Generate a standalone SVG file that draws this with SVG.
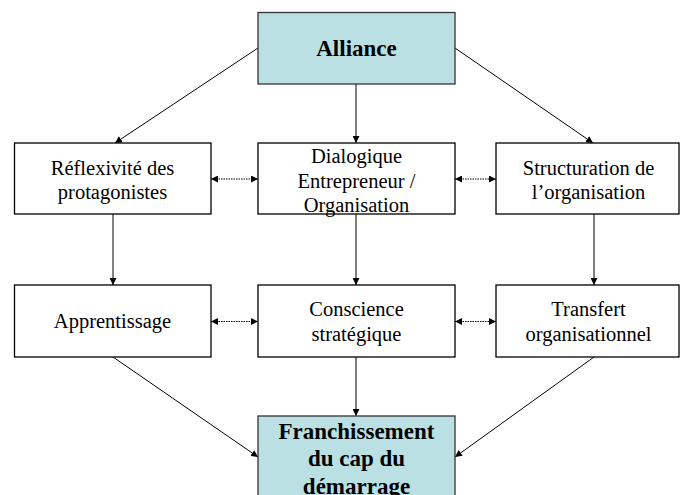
<svg xmlns="http://www.w3.org/2000/svg" width="681" height="495" viewBox="0 0 681 495">
<defs>
<marker id="arr" viewBox="0 0 10 10" refX="10" refY="5" markerWidth="7" markerHeight="7" markerUnits="userSpaceOnUse" orient="auto">
<path d="M0,0 L10,5 L0,10 z" fill="#000"/>
</marker>
<marker id="arrs" viewBox="0 0 10 10" refX="10" refY="5" markerWidth="7" markerHeight="7" markerUnits="userSpaceOnUse" orient="auto-start-reverse">
<path d="M0,0 L10,5 L0,10 z" fill="#000"/>
</marker>
</defs>
<style>
.box{fill:#fff;stroke:#000;stroke-width:1.3}
.hl{fill:#BBE0E3;stroke:#333;stroke-width:1.3}
.t{font-family:"Liberation Serif","Times New Roman",serif;font-size:20.5px;text-anchor:middle;fill:#000}
.b{font-family:"Liberation Serif","Times New Roman",serif;font-size:23px;font-weight:bold;text-anchor:middle;fill:#000}
.c{stroke:#000;stroke-width:1;fill:none;marker-end:url(#arr)}
.d{stroke:#000;stroke-width:1;fill:none;stroke-dasharray:1.5 1;marker-end:url(#arrs);marker-start:url(#arrs)}
</style>
<rect width="681" height="495" fill="#fff"/>
<g id="connectors">
<line class="c" x1="258" y1="48" x2="115" y2="143"/>
<line class="c" x1="356" y1="84" x2="356" y2="143"/>
<line class="c" x1="455" y1="48" x2="593" y2="143"/>
<line class="c" x1="113" y1="214" x2="113" y2="285"/>
<line class="c" x1="356" y1="214" x2="356" y2="285"/>
<line class="c" x1="594" y1="214" x2="594" y2="285"/>
<line class="c" x1="113" y1="357" x2="258" y2="457"/>
<line class="c" x1="356" y1="357" x2="356" y2="416"/>
<line class="c" x1="594" y1="357" x2="455" y2="457"/>
<line class="d" x1="211" y1="179" x2="258" y2="179"/>
<line class="d" x1="455" y1="179" x2="496" y2="179"/>
<line class="d" x1="211" y1="321.5" x2="258" y2="321.5"/>
<line class="d" x1="455" y1="321.5" x2="496" y2="321.5"/>
</g>
<g id="alliance">
<rect class="hl" x="258" y="12.5" width="197" height="71.5"/>
<text class="b" x="356.5" y="56">Alliance</text>
</g>
<g id="reflexivite">
<rect class="box" x="14.5" y="143" width="196.5" height="71"/>
<text class="t" x="112.5" y="174.5">Réflexivité des</text>
<text class="t" x="112.5" y="199">protagonistes</text>
</g>
<g id="dialogique">
<rect class="box" x="258" y="143" width="197" height="71"/>
<text class="t" x="356.5" y="163">Dialogique</text>
<text class="t" x="356.5" y="187.5">Entrepreneur /</text>
<text class="t" x="356.5" y="212">Organisation</text>
</g>
<g id="structuration">
<rect class="box" x="496" y="143" width="183" height="71"/>
<text class="t" x="588.5" y="174.5">Structuration de</text>
<text class="t" x="588.5" y="199">l’organisation</text>
</g>
<g id="apprentissage">
<rect class="box" x="14.5" y="285" width="196.5" height="72"/>
<text class="t" x="112.5" y="328">Apprentissage</text>
</g>
<g id="conscience">
<rect class="box" x="258" y="285" width="197" height="72"/>
<text class="t" x="356.5" y="316">Conscience</text>
<text class="t" x="356.5" y="340.5">stratégique</text>
</g>
<g id="transfert">
<rect class="box" x="496" y="285" width="183" height="72"/>
<text class="t" x="588.5" y="316">Transfert</text>
<text class="t" x="588.5" y="340.5">organisationnel</text>
</g>
<g id="franchissement">
<rect class="hl" x="258" y="416" width="197" height="90"/>
<text class="b" x="356.5" y="438.5">Franchissement</text>
<text class="b" x="356.5" y="466">du cap du</text>
<text class="b" x="356.5" y="493.5">démarrage</text>
</g>
</svg>
